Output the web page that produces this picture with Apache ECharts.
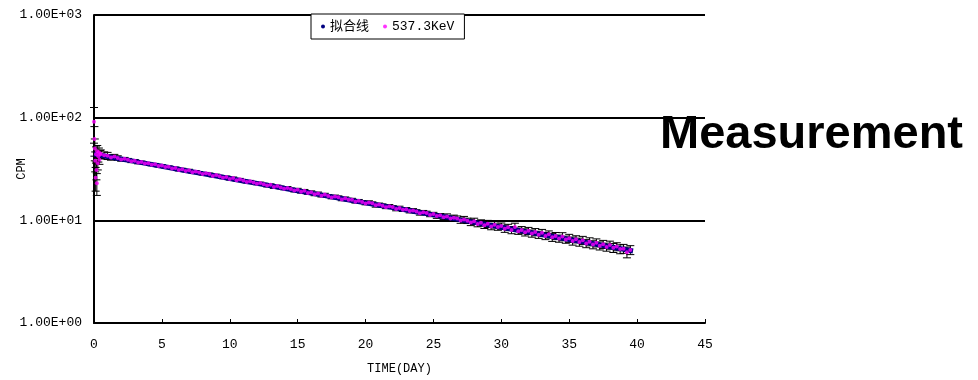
<!DOCTYPE html>
<html>
<head>
<meta charset="utf-8">
<script src="https://cdn.jsdelivr.net/npm/echarts@6/dist/echarts.min.js"></script>
<style>
  html, body { margin: 0; padding: 0; background: #fff; }
  #chart { width: 978px; height: 380px; }
</style>
</head>
<body>
<div id="chart"></div>
<script>
// measured 537.3 keV counts (CPM) vs time in days, with error in percent
const TIME = [
  0.00, 0.03, 0.06, 0.09, 0.12, 0.15, 0.18, 0.21, 0.24, 0.28, 0.32, 0.36, 0.40, 0.45,
  0.50, 0.75, 1.00, 1.25, 1.50, 1.75, 2.00, 2.25, 2.50, 2.75, 3.00, 3.25, 3.50, 3.75,
  4.00, 4.25, 4.50, 4.75, 5.00, 5.25, 5.50, 5.75, 6.00, 6.25, 6.50, 6.75, 7.00, 7.25,
  7.50, 7.75, 8.00, 8.25, 8.50, 8.75, 9.00, 9.25, 9.50, 9.75, 10.00, 10.25, 10.50, 10.75,
  11.00, 11.25, 11.50, 11.75, 12.00, 12.25, 12.50, 12.75, 13.00, 13.25, 13.50, 13.75,
  14.00, 14.25, 14.50, 14.75, 15.00, 15.25, 15.50, 15.75, 16.00, 16.25, 16.50, 16.75,
  17.00, 17.25, 17.50, 17.75, 18.00, 18.25, 18.50, 18.75, 19.00, 19.25, 19.50, 19.75,
  20.00, 20.25, 20.50, 20.75, 21.00, 21.25, 21.50, 21.75, 22.00, 22.25, 22.50, 22.75,
  23.00, 23.25, 23.50, 23.75, 24.00, 24.25, 24.50, 24.75, 25.00, 25.25, 25.50, 25.75,
  26.00, 26.25, 26.50, 26.75, 27.00, 27.25, 27.50, 27.75, 28.00, 28.25, 28.50, 28.75,
  29.00, 29.25, 29.50, 29.75, 30.00, 30.25, 30.50, 30.75, 31.00, 31.25, 31.50, 31.75,
  32.00, 32.25, 32.50, 32.75, 33.00, 33.25, 33.50, 33.75, 34.00, 34.25, 34.50, 34.75,
  35.00, 35.25, 35.50, 35.75, 36.00, 36.25, 36.50, 36.75, 37.00, 37.25, 37.50, 37.75,
  38.00, 38.25, 38.50, 38.75, 39.00, 39.25, 39.50
];
const CPM = [
  91, 62, 50, 38, 26, 44, 31, 23, 47, 36, 42, 46, 39, 44,
  44.5, 43.0, 42.5, 41.0, 41.8, 40.5, 39.2, 39.8, 38.9, 37.6, 38.0, 36.6, 37.0, 35.8,
  35.9, 34.7, 35.1, 33.8, 34.2, 33.0, 33.2, 32.0, 32.4, 30.9, 31.5, 30.3, 30.8, 29.4,
  29.9, 29.3, 28.2, 28.7, 28.3, 27.1, 27.6, 26.9, 26.0, 26.5, 25.2, 25.9, 24.6, 25.1,
  24.4, 23.6, 24.0, 23.3, 22.7, 23.1, 22.5, 21.8, 22.2, 21.1, 21.6, 20.9,
  20.3, 20.7, 20.2, 19.5, 19.9, 19.0, 19.4, 18.5, 18.8, 17.9, 18.3, 17.4,
  17.8, 17.3, 16.7, 17.1, 16.8, 16.0, 16.4, 15.9, 15.9, 15.2, 15.5, 15.1,
  14.6, 14.9, 14.7, 14.0, 14.3, 13.9, 13.4, 13.7, 13.5, 12.9, 13.2, 12.7,
  12.8, 12.3, 12.5, 12.2, 11.7, 12.0, 11.8, 11.3, 11.5, 11.0, 11.2, 10.7,
  10.9, 10.4, 10.6, 10.4, 9.95, 10.2, 9.90, 9.55, 9.80, 9.20, 9.45, 8.95,
  9.25, 8.70, 9.05, 8.60, 8.80, 8.30, 8.55, 8.05, 8.60, 7.85, 8.05, 7.65,
  7.90, 7.45, 7.70, 7.25, 7.55, 7.05, 7.30, 6.85, 7.05, 6.65, 6.95, 6.50,
  6.70, 6.30, 6.55, 6.15, 6.40, 5.95, 6.20, 5.80, 6.05, 5.65, 5.85, 5.50,
  5.75, 5.40, 5.55, 5.25, 5.30, 4.90, 5.15
];
const ERR_PCT = [
  38, 32, 24, 22, 26, 18, 20, 24, 14, 14, 12, 10, 10, 9,
  9, 8, 8, 6, 5, 5, 4, 3, 3, 3, 3, 3, 2, 2,
  2, 2, 2, 2, 2, 2, 2, 2, 2, 2, 2, 2, 2, 2,
  2, 2, 2, 2, 2, 2, 2, 2, 2, 2, 2, 2, 2, 2,
  2, 2, 2, 2, 2, 2, 2, 3, 2, 3, 2, 3,
  2, 3, 2, 3, 3, 3, 3, 3, 3, 3, 3, 3,
  3, 3, 3, 3, 3, 3, 3, 3, 3, 3, 3, 3,
  3, 4, 3, 4, 3, 4, 3, 4, 3, 4, 4, 4,
  4, 4, 4, 4, 4, 4, 4, 4, 4, 5, 4, 5,
  6, 6, 6, 6, 6, 7, 6, 7, 7, 6, 7, 7,
  8, 7, 7, 7, 7, 8, 7, 8, 9, 7, 8, 8,
  8, 8, 8, 8, 8, 8, 8, 9, 8, 8, 9, 8,
  9, 9, 8, 9, 9, 9, 9, 9, 9, 9, 9, 9,
  9, 10, 9, 10, 10, 12, 10
];

// fitted decay curve
const FIT_TIME = [
  0, 1, 2, 3, 4, 5, 6, 7, 8, 9, 10, 11, 12, 13, 14, 15, 16, 17, 18, 19,
  20, 21, 22, 23, 24, 25, 26, 27, 28, 29, 30, 31, 32, 33, 34, 35, 36, 37, 38, 39, 39.7
];
const FIT_CPM = [
  44.2, 41.8, 39.6, 37.5, 35.5, 33.6, 31.8, 30.1, 28.5, 27.0, 25.6, 24.2, 22.9, 21.7,
  20.5, 19.4, 18.4, 17.4, 16.5, 15.6, 14.8, 14.0, 13.3, 12.6, 11.9, 11.3, 10.7, 10.1,
  9.56, 9.05, 8.57, 8.11, 7.68, 7.27, 6.88, 6.51, 6.17, 5.84, 5.53, 5.23, 5.03
];

const SERIES_NAMES = ["拟合线", "537.3KeV"];
const Y_TICK_LABELS = ["1.00E+00", "1.00E+01", "1.00E+02", "1.00E+03"];
const X_TICKS = [0, 5, 10, 15, 20, 25, 30, 35, 40, 45];

const FONT = "'Liberation Mono', 'Noto Sans CJK SC', monospace";

const measured = TIME.map((t, i) => [t, CPM[i]]);
const errBars = TIME.map((t, i) => [t, CPM[i] * (1 - ERR_PCT[i] / 100), CPM[i] * (1 + ERR_PCT[i] / 100)]);
const fit = FIT_TIME.map((t, i) => [t, FIT_CPM[i]]);

function renderErrorBar(params, api) {
  const x = api.value(0);
  const lo = api.coord([x, api.value(1)]);
  const hi = api.coord([x, api.value(2)]);
  const half = 4;
  const style = { stroke: "#000", lineWidth: 1 };
  return {
    type: "group",
    children: [
      { type: "line", shape: { x1: lo[0], y1: lo[1], x2: hi[0], y2: hi[1] }, style },
      { type: "line", shape: { x1: lo[0] - half, y1: lo[1], x2: lo[0] + half, y2: lo[1] }, style },
      { type: "line", shape: { x1: hi[0] - half, y1: hi[1], x2: hi[0] + half, y2: hi[1] }, style },
    ],
  };
}

const chart = echarts.init(document.getElementById("chart"), null, { renderer: "canvas" });

chart.setOption({
  animation: false,
  backgroundColor: "#fff",
  grid: { left: 94, right: 273, top: 15, bottom: 57, containLabel: false, outerBoundsMode: "none" },
  legend: {
    data: SERIES_NAMES.map((n, i) => ({ name: n, icon: "circle", itemStyle: { color: i === 0 ? "#000080" : "#ff00ff" } })),
    left: 311,
    top: 14,
    padding: [6, 10],
    itemWidth: 4,
    itemHeight: 4,
    itemGap: 14,
    borderColor: "#000",
    borderWidth: 1,
    backgroundColor: "#fff",
    textStyle: { color: "#000", fontSize: 13, fontFamily: FONT },
  },
  xAxis: {
    type: "value",
    min: X_TICKS[0],
    max: X_TICKS[X_TICKS.length - 1],
    interval: 5,
    name: "TIME(DAY)",
    nameLocation: "middle",
    nameGap: 40,
    nameMoveOverlap: false,
    nameTextStyle: { color: "#000", fontSize: 12, fontFamily: FONT },
    axisLine: { lineStyle: { color: "#000", width: 2 } },
    axisTick: { inside: true, length: 4, lineStyle: { color: "#000", width: 1 } },
    axisLabel: { color: "#000", fontSize: 13, fontFamily: FONT, margin: 15 },
    splitLine: { show: false },
  },
  yAxis: {
    type: "log",
    logBase: 10,
    min: 1,
    max: 1000,
    name: "CPM",
    nameLocation: "middle",
    nameRotate: 90,
    nameGap: 66,
    nameMoveOverlap: false,
    nameTextStyle: { color: "#000", fontSize: 12, fontFamily: FONT },
    axisLine: { show: true, lineStyle: { color: "#000", width: 2 } },
    axisTick: { show: false },
    axisLabel: {
      color: "#000",
      fontSize: 13,
      fontFamily: FONT,
      margin: 12,
      formatter: (v) => Y_TICK_LABELS[Math.round(Math.log10(v))],
    },
    splitLine: { show: true, lineStyle: { color: "#000", width: 2 } },
  },
  graphic: [
    {
      type: "text",
      left: 660,
      top: 112,
      z: 100,
      style: {
        text: "Measurement",
        fill: "#000",
        font: "bold 47px 'Liberation Sans', Arial, sans-serif",
      },
    },
  ],
  series: [
    {
      name: SERIES_NAMES[0],
      type: "line",
      data: fit,
      showSymbol: false,
      lineStyle: { color: "#000080", width: 5 },
      itemStyle: { color: "#000080" },
      z: 2,
    },
    {
      name: "err",
      type: "custom",
      renderItem: renderErrorBar,
      data: errBars,
      encode: { x: 0, y: [1, 2] },
      z: 1,
    },
    {
      name: SERIES_NAMES[1],
      type: "scatter",
      data: measured,
      symbol: "circle",
      symbolSize: 4,
      itemStyle: { color: "#ff00ff" },
      z: 3,
    },
  ],
});
</script>
</body>
</html>
